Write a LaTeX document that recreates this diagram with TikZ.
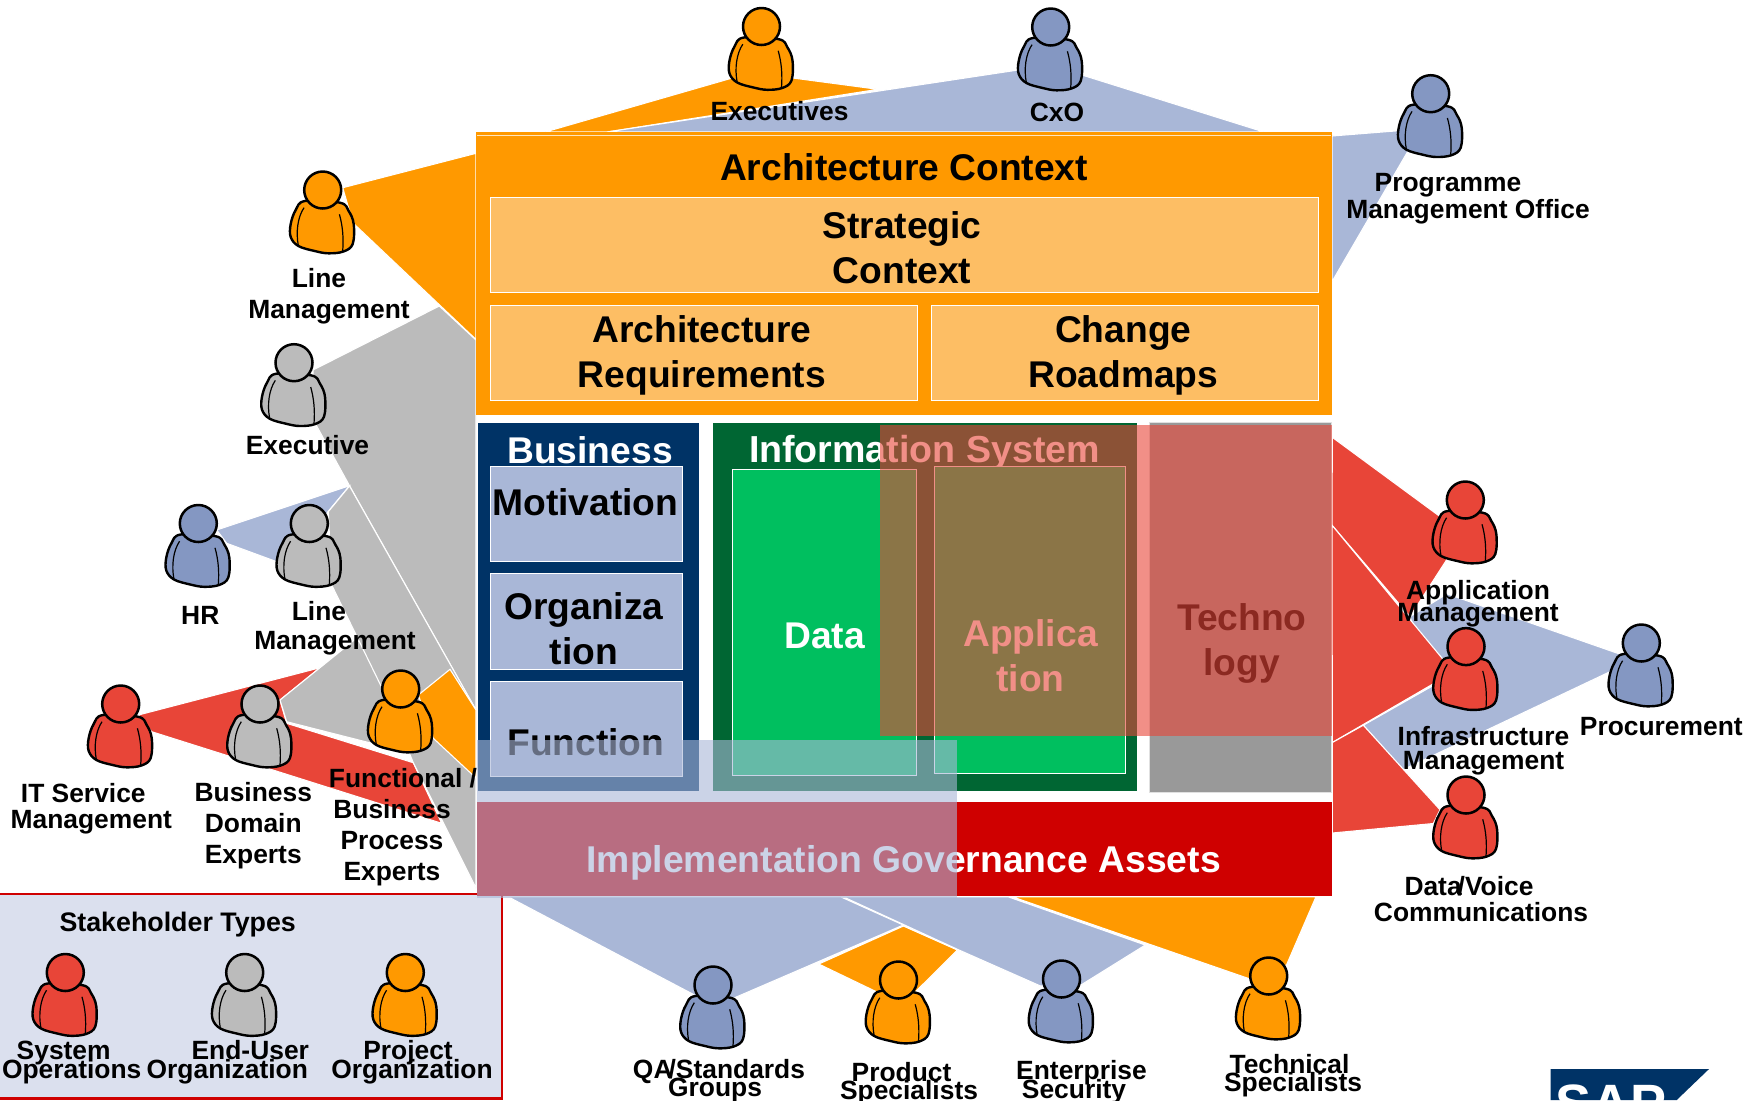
\documentclass[tikz,border=0pt]{standalone}
\usepackage{fontspec}
\setmainfont{Liberation Sans}
\definecolor{porange}{HTML}{FF9900}
\definecolor{pblue}{HTML}{8497C2}
\definecolor{pred}{HTML}{E84538}
\definecolor{pgrey}{HTML}{BBBBBB}
\definecolor{wblue}{HTML}{A9B7D7}
\definecolor{lightorange}{HTML}{FDBE64}
\definecolor{navy}{HTML}{003366}
\definecolor{dkgreen}{HTML}{006633}
\definecolor{brgreen}{HTML}{00BF5F}
\definecolor{techgrey}{HTML}{999999}
\definecolor{implred}{HTML}{CF0000}
\definecolor{legendbg}{HTML}{DBE0EE}
\newcommand{\labfont}[1]{\bfseries\fontsize{13.2}{#1}\selectfont}
\newcommand{\bigfont}[1]{\bfseries\fontsize{18.6}{#1}\selectfont}
\AtBeginDocument{\lineskiplimit=-50pt\relax}
\tikzset{
  wedge/.style={fill=#1,draw=white,line width=0.55pt},
  lab/.style={font=\labfont{#1},align=center,inner sep=0pt,text=black},
  big/.style={font=\bigfont{#1},align=center,inner sep=0pt},
  panel/.style={fill=#1,draw=white,line width=0.3pt},
  pics/person/.style={code={
    \draw[fill=#1,line width=1.2pt,line join=round]
      plot[smooth cycle,tension=0.6] coordinates{(-17.7,11)(-27,20)(-32,34)(-32,47)(-24.3,56)(-8,61)(5.7,63.3)(20.7,61.5)(30,54)(31,34)(26,21)(17.3,12.7)};
    \draw[line width=0.6pt] (-18.7,17.7) .. controls (-25,27) and (-27,42) .. (-24.3,56);
    \draw[line width=0.6pt] (16.7,24.3) .. controls (20,36) and (21,48) .. (20,61);
    \draw[fill=#1,line width=1.25pt] (0,0) circle[radius=18.5];
  }}
}
\begin{document}
\begin{tikzpicture}[x=0.5pt,y=-0.5pt]
\useasboundingbox (0,0) rectangle (1744,1100);
\fill[white] (0,0) rectangle (1744,1100);
% wedges
\draw[wedge=porange] (545,132)--(735.7,77)--(793,78)--(878,89.3)--(607,132)--cycle;
\draw[wedge=wblue] (607,132)--(1018,70)--(1082,75)--(1264,132)--cycle;
\draw[wedge=wblue] (1332,136)--(1398.6,130.7)--(1408.6,150)--(1332,281.7)--cycle;
\draw[wedge=porange] (342.7,187.7)--(476,153.3)--(476,339.5)--(353,223)--cycle;
\draw[wedge=pgrey] (313,370)--(439.3,306)--(476,340)--(476,710)--(349.5,485.7)--(315,423)--cycle;
\draw[wedge=wblue] (216.7,530)--(349.5,485.7)--(328,511.7)--(300,560)--(276.7,561.7)--(226.7,543.3)--cycle;
\draw[wedge=pred] (138.3,715)--(320,667.7)--(280,700)--(286.7,723.3)--(413.3,762.7)--(441.7,823.3)--(151.7,731.7)--cycle;
\draw[wedge=pgrey] (280,700)--(356.7,638)--(400,700)--(410,753)--(286.7,721.7)--cycle;
\draw[wedge=pgrey] (328.3,511.7)--(349.5,486)--(476,710)--(476,888)--(413.3,762.7)--(383,690)--(331.7,585)--cycle;
\draw[wedge=porange] (418.3,695)--(450,669.3)--(476,710)--(476,778)--(433.3,738.3)--cycle;
\draw[wedge=wblue] (1410,616.6)--(1447,593.8)--(1622,654.8)--(1610,671.7)--(1403,769.7)--(1363.3,725.2)--(1433,685.6)--cycle;
\draw[wedge=pred] (1332.3,437.3)--(1440,516.5)--(1446.7,559.7)--(1410,616.6)--(1332,525.2)--cycle;
\draw[wedge=pred] (1332,525.2)--(1443.3,659.7)--(1433.3,683.8)--(1332.3,742.5)--cycle;
\draw[wedge=pred] (1332.3,742.5)--(1363.3,725.2)--(1440,809.7)--(1433.3,823.5)--(1332.3,833)--cycle;
\draw[wedge=wblue] (508,896.7)--(840.5,896.7)--(903.4,925)--(734,998)--(697.7,996.7)--cycle;
\draw[wedge=porange] (903.4,926)--(957.4,950)--(915.5,991.7)--(879,993)--(818.7,964)--cycle;
\draw[wedge=wblue] (843,896.7)--(1008,896.7)--(1145.3,945)--(1081,985)--(1040.5,986)--(957.4,949.3)--cycle;
\draw[wedge=porange] (1012,896.7)--(1316,896.7)--(1286.5,965)--(1250,979)--cycle;
% legend panel
\draw[fill=legendbg,draw=implred,line width=1.2pt] (-10,894) rectangle (501.7,1098.3);
% persons
\pic (pExec) at (761.5,26.5) {person=porange};
\pic (pCxO) at (1050.7,27) {person=pblue};
\pic (pProg) at (1430.7,93.7) {person=pblue};
\pic (pLine) at (322.7,190) {person=porange};
\pic (pExe2) at (294,362.7) {person=pgrey};
\pic (pHR) at (198.3,523.5) {person=pblue};
\pic (pLine2) at (309.3,523.5) {person=pgrey};
\pic (pIT) at (120.7,704) {person=pred};
\pic (pBD) at (260,704) {person=pgrey};
\pic (pFunc) at (400.7,689) {person=porange};
\pic (pSys) at (65.3,972.5) {person=pred};
\pic (pEnd) at (244.7,972.5) {person=pgrey};
\pic (pProj) at (405.3,972.5) {person=porange};
\pic (pApp) at (1465.3,500) {person=pred};
\pic (pInfra) at (1466,646.6) {person=pred};
\pic (pData) at (1466,795) {person=pred};
\pic (pProc) at (1641.3,643) {person=pblue};
\pic (pQA) at (713,985) {person=pblue};
\pic (pProd) at (898.5,980) {person=porange};
\pic (pEnt) at (1061.5,979) {person=pblue};
\pic (pTech) at (1268.7,976) {person=porange};
% person labels
\node[lab=15] (lExec) at (779.5,111.5) {Executives};
\node[lab=15] (lCxO) at (1057,112.5) {CxO};
\node[lab=13.5] (lProg) at (1468,198.7) {\hspace*{-20pt}Programme\\Management Office};
\node[lab=15.3] (lLine) at (329,296) {\hspace*{-10pt}Line\\Management};
\node[lab=15] (lExe2) at (307.5,445) {Executive};
\node[lab=15] (lHR) at (200.3,615.2) {HR};
\node[lab=14.7] (lLine2) at (335,628.3) {\hspace*{-16pt}Line\\Management};
\node[lab=13] (lIT) at (91.3,808.7) {\hspace*{-8pt}IT Service\\Management};
\node[lab=15.4] (lBD) at (253.3,825.5) {Business\\Domain\\Experts};
\node[lab=15.6] (lFunc) at (392,827) {\hspace*{11pt}Functional /\\Business\\Process\\Experts};
\node[lab=11] (lApp) at (1478,603.5) {Application\\Management};
\node[lab=12.2] (lInfra) at (1483.5,751) {Infrastructure\\Management};
\node[lab=15] (lProc) at (1661.3,726.5) {Procurement};
\node[lab=13.3] (lData) at (1481,899) {\hspace*{-12pt}Data\kern-2pt/Voice\\Communications};
\node[lab=15,font=\bfseries\fontsize{13.4}{15}\selectfont] (lTypes) at (177.7,924.6) {Stakeholder Types};
\node[lab=9.5] (lSys) at (71.7,1062) {\hspace*{-8pt}System\\Operations};
\node[lab=9.5] (lEnd) at (227.3,1062) {\hspace*{23pt}End-User\\Organization};
\node[lab=9.5] (lProj) at (412,1062) {\hspace*{-4pt}Project\\Organization};
\node[lab=9] (lQA) at (719,1080.5) {QA\kern-2pt/Standards\\\hspace*{-4pt}Groups};
\node[lab=9] (lProd) at (909,1083.6) {\hspace*{-7.5pt}Product\\Specialists};
\node[lab=9.5] (lEnt) at (1081.5,1082.5) {Enterprise\\\hspace*{-7.5pt}Security};
\node[lab=8.7] (lTech) at (1293,1075.5) {\hspace*{-3.5pt}Technical\\Specialists};
% context box
\fill[porange] (476,132) rectangle (1332,415);
\draw[white!75!porange,line width=0.5pt] (477,135.5)--(1331,135.5);
\draw[panel=lightorange] (490.7,197.3) rectangle (1318,292.7);
\draw[panel=lightorange] (490.7,305) rectangle (917.6,400);
\draw[panel=lightorange] (931,305) rectangle (1318,400);
\node[big=22] (tArch) at (904,167.5) {Architecture Context};
\node[big=22.8] (tStrat) at (902,247.5) {Strategic\\Context};
\node[big=22.8] (tReq) at (702,355.5) {Architecture\\Requirements};
\node[big=22.8] (tRoad) at (1123.3,355.5) {Change\\Roadmaps};
% layers
\draw[panel=navy] (477.3,422.7) rectangle (699.3,791.7);
\node[big=22,text=white] (tBus) at (590,450.2) {Business};
\draw[panel=wblue] (490.7,466) rectangle (682.7,561.7);
\draw[panel=wblue] (490.7,573.3) rectangle (682.7,669);
\draw[panel=wblue] (490.7,681.3) rectangle (682.7,776.7);
\node[big=22] (tMot) at (585.3,502.3) {Motivation};
\node[big=22.8] (tOrg) at (584,628.8) {Organiza\\tion};
\node[big=22] (tFun) at (585.8,742.2) {Function};
\draw[panel=dkgreen] (712,422.7) rectangle (1137,791.7);
\node[inner sep=0pt,text=white,font=\bfseries\fontsize{18.8}{22}\selectfont] (tInfo) at (924.5,452.7) {Information System};
\draw[panel=brgreen] (732.3,469.3) rectangle (916,775.7);
\draw[panel=brgreen] (934.3,466.3) rectangle (1125.7,773.3);
\node[big=22,text=white] (tData) at (824.7,636) {Data};
\node[big=22.4,text=white] (tApp) at (1030.5,655.5) {Applica\\tion};
\draw[fill=techgrey,draw=white!70!techgrey,line width=0.4pt] (1149,422.7) rectangle (1331.7,792);
\node[big=22.5] (tTech) at (1241.8,643.3) {Techno\\logy};
\fill[implred] (477,801.7) rectangle (1332,896);
\node[inner sep=0pt,text=white,font=\bfseries\fontsize{18.65}{22}\selectfont] (tImpl) at (903.7,863) {Implementation Governance Assets};
% translucent overlays
\fill[wblue,opacity=0.6] (477,740) rectangle (956.7,898);
\fill[pred,opacity=0.6] (880,425) rectangle (1332,736);
% logo
\fill[navy] (1550.7,1069)--(1709,1069)--(1676.7,1100)--(1550.7,1100)--cycle;
\node[font=\bfseries\fontsize{27}{30}\selectfont,text=white,inner sep=0pt,anchor=base] (tSAP) at (1611,1122) {SAP};
\end{tikzpicture}
\end{document}
